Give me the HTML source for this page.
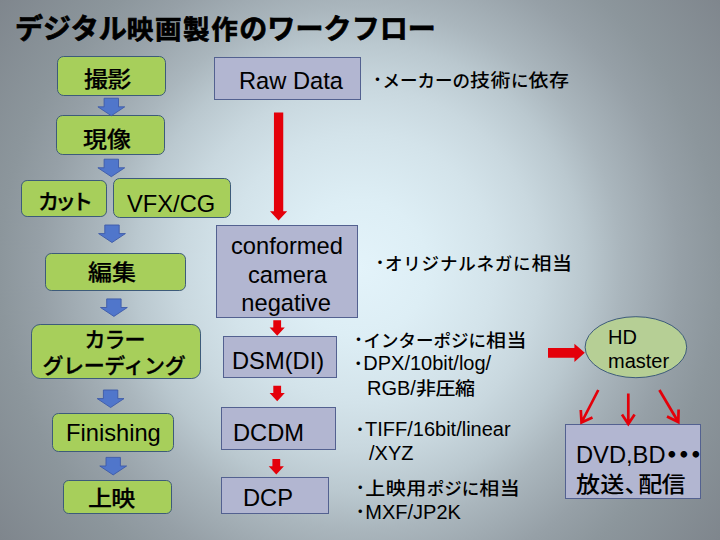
<!DOCTYPE html>
<html lang="ja">
<head>
<meta charset="utf-8">
<title>デジタル映画製作のワークフロー</title>
<style>
html,body{margin:0;padding:0;}
body{width:720px;height:540px;overflow:hidden;position:relative;
  font-family:"Liberation Sans","Noto Sans CJK JP",sans-serif;color:#000;font-weight:500;
  background:radial-gradient(circle 450px at 360px 268px,#e3f3fa 0%,#ddeef5 15%,#d3e3ea 30%,#c9d8df 40%,#bac8cf 50%,#aab6bd 58%,#96a0a7 71%,#8c969c 80%,#7f868d 100%);}
svg{position:absolute;left:0;top:0;}
.t{position:absolute;white-space:nowrap;line-height:30px;height:30px;}
.title{font-weight:bold;font-size:28px;-webkit-text-stroke:0.7px #000;}
.g{position:absolute;box-sizing:border-box;background:#a7cf5b;border:1px solid #3d5b7a;}
.b{position:absolute;box-sizing:border-box;background:#b2b6d1;border:1px solid #536190;}
.l{font-size:23.7px;}
.n{font-size:20px;}
.c{display:inline-block;transform:scaleY(0.9);transform-origin:50% 76%;}
.bu{display:inline-block;width:9px;text-indent:-3.5px;font-size:15px;position:relative;top:-1.7px;}
</style>
</head>
<body>

<div class="g" style="left:57px;top:56px;width:109px;height:40px;border-radius:6.7px"></div>
<div class="g" style="left:56px;top:115px;width:109px;height:40px;border-radius:6.7px"></div>
<div class="g" style="left:21px;top:180px;width:86px;height:37px;border-radius:6.2px"></div>
<div class="g" style="left:113px;top:178px;width:118px;height:40px;border-radius:6.7px"></div>
<div class="g" style="left:45px;top:253px;width:141px;height:38px;border-radius:6.3px"></div>
<div class="g" style="left:30.6px;top:323.5px;width:170.6px;height:55.3px;border-radius:9.2px"></div>
<div class="g" style="left:52px;top:413px;width:122px;height:39px;border-radius:6.5px"></div>
<div class="g" style="left:63px;top:480px;width:109px;height:34px;border-radius:5.7px"></div>
<div class="b" style="left:214px;top:57px;width:147px;height:43px;"></div>
<div class="b" style="left:216px;top:225px;width:141.5px;height:92.7px;"></div>
<div class="b" style="left:223px;top:335.6px;width:114.4px;height:42px;"></div>
<div class="b" style="left:221px;top:407.4px;width:115px;height:42.4px;"></div>
<div class="b" style="left:221px;top:477px;width:108px;height:36.5px;"></div>
<div class="b" style="left:565.3px;top:424.3px;width:135.5px;height:75.2px;"></div>
<svg width="720" height="540" viewBox="0 0 720 540">
<g fill="#5076cb" stroke="#3d5aa8" stroke-width="0.9">
<path d="M104.1 98.25h14.4v8.6h6.2l-13.4 8.9l-13.4 -8.9h6.2z"/>
<path d="M104.1 159.2h14.4v8.6h6.2l-13.4 8.9l-13.4 -8.9h6.2z"/>
<path d="M104.8 225h14.4v8.6h6.2l-13.4 8.9l-13.4 -8.9h6.2z"/>
<path d="M106.7 298.9h14.4v8.6h6.2l-13.4 8.9l-13.4 -8.9h6.2z"/>
<path d="M103.4 390h14.4v8.6h6.2l-13.4 8.9l-13.4 -8.9h6.2z"/>
<path d="M106.0 457.4h14.4v8.6h6.2l-13.4 8.9l-13.4 -8.9h6.2z"/>
</g>
<g fill="#e4000a">
<path d="M273.95 112.4h9.3v98.9h3.95l-8.6 9.3l-8.6 -9.3h3.95z"/>
<path d="M273.3 320.3h7.8v7.2h3.7l-7.6 8.3l-7.6 -8.3h3.7z"/>
<path d="M273.3 385.8h7.8v7.2h3.7l-7.6 8.3l-7.6 -8.3h3.7z"/>
<path d="M272.4 459h7.8v7.2h3.7l-7.6 8.3l-7.6 -8.3h3.7z"/>
<path d="M548 348.1H574.4V343.8L584.8 352.8L574.4 361.9V357.8H548z"/>
</g>
<ellipse cx="635.9" cy="347.2" rx="50.8" ry="30.5" fill="#b6cf95" stroke="#3d5b7a" stroke-width="1"/>
<g stroke="#e4000a" stroke-width="2.7" fill="none" stroke-linecap="butt" stroke-linejoin="miter">
<path d="M598.3 390L581.5 422.5M580.8 410L581.5 422.5L592.5 417.5"/>
<path d="M628.3 393.500L628.3 424M622 414.500L628.3 424L634.6 414.500"/>
<path d="M659.4 390L678.3 422M667 416.500L678.3 422L678.6 409.500"/>
</g>
</svg>
<div class="t title" style="left:15px;top:14.5px;"><span style="font-size:28px;letter-spacing:0.1px">デジタル</span><span style="font-size:26.5px;letter-spacing:1.6px">映画製作</span><span style="font-size:28px;letter-spacing:0.1px">のワークフロー</span></div>
<div class="t l" style="left:84px;top:64px;"><span class="c" style="font-size:24px;-webkit-text-stroke:0.25px #000;letter-spacing:-0.7px">撮影</span></div>
<div class="t l" style="left:83px;top:124px;"><span class="c" style="font-size:24px;-webkit-text-stroke:0.25px #000;letter-spacing:0px">現像</span></div>
<div class="t l" style="left:38px;top:186px;"><span style="font-size:21px;-webkit-text-stroke:0.3px #000;letter-spacing:-4px">カット</span></div>
<div class="t l" style="left:127px;top:189px;">VFX/CG</div>
<div class="t l" style="left:88px;top:257px;"><span class="c" style="font-size:24px;-webkit-text-stroke:0.25px #000;letter-spacing:0px">編集</span></div>
<div class="t l" style="left:84.5px;top:324px;"><span style="font-size:21px;-webkit-text-stroke:0.3px #000;letter-spacing:-1px">カラー</span></div>
<div class="t l" style="left:42.5px;top:350px;"><span style="font-size:21px;-webkit-text-stroke:0.3px #000;letter-spacing:-0.4px">グレーディング</span></div>
<div class="t l" style="left:66px;top:418px;">Finishing</div>
<div class="t l" style="left:88px;top:482.5px;"><span class="c" style="font-size:24px;-webkit-text-stroke:0.25px #000;letter-spacing:-0.8px">上映</span></div>
<div class="t l" style="left:239px;top:66px;">Raw Data</div>
<div class="t l" style="left:231px;top:231px;">conformed</div>
<div class="t l" style="left:248px;top:259.7px;">camera</div>
<div class="t l" style="left:241.3px;top:287.7px;">negative</div>
<div class="t l" style="left:232px;top:346px;">DSM(DI)</div>
<div class="t l" style="left:233px;top:417.6px;">DCDM</div>
<div class="t l" style="left:243px;top:483px;">DCP</div>
<div class="t n" style="left:373.5px;top:65px;"><span class="bu">・</span><span style="font-size:17.5px;letter-spacing:0px">メーカーの</span><span class="c" style="font-size:20px;letter-spacing:0.5px">技術</span><span style="font-size:17.5px;letter-spacing:0px">に</span><span class="c" style="font-size:20px;letter-spacing:0.5px">依存</span></div>
<div class="t n" style="left:376px;top:248px;"><span class="bu">・</span><span style="font-size:17.5px;letter-spacing:0.8px">オリジナルネガに</span><span class="c" style="font-size:20px;letter-spacing:0.5px">相当</span></div>
<div class="t n" style="left:354.5px;top:325px;"><span class="bu">・</span><span style="font-size:17.5px;letter-spacing:0px">インターポジに</span><span class="c" style="font-size:20px;letter-spacing:0.5px">相当</span></div>
<div class="t n" style="left:354.3px;top:348.3px;"><span class="bu">・</span>DPX/10bit/log/</div>
<div class="t n" style="left:367px;top:373px;">RGB/<span class="c" style="font-size:20px;letter-spacing:-0.4px">非圧縮</span></div>
<div class="t n" style="left:356px;top:414.3px;"><span class="bu">・</span>TIFF/16bit/linear</div>
<div class="t n" style="left:369px;top:438px;">/XYZ</div>
<div class="t n" style="left:356.3px;top:473px;"><span class="bu">・</span><span class="c" style="font-size:20px;letter-spacing:0.5px">上映用</span><span style="font-size:17.5px;letter-spacing:0px">ポジに</span><span class="c" style="font-size:20px;letter-spacing:0.5px">相当</span></div>
<div class="t n" style="left:356.3px;top:497px;"><span class="bu">・</span>MXF/JP2K</div>
<div class="t n" style="left:608px;top:321.5px;">HD</div>
<div class="t n" style="left:608px;top:345.5px;">master</div>
<div class="t l" style="left:576px;top:440px;">DVD,BD<span style="font-weight:900;letter-spacing:-11.7px;margin-left:-5.5px">・・・</span></div>
<div class="t l" style="left:576px;top:468.7px;"><span class="c" style="font-size:24px;letter-spacing:0.3px">放送</span><span class="c" style="font-size:24px;letter-spacing:-10.3px">、</span><span class="c" style="font-size:24px;letter-spacing:-0.8px">配信</span></div>
</body>
</html>
